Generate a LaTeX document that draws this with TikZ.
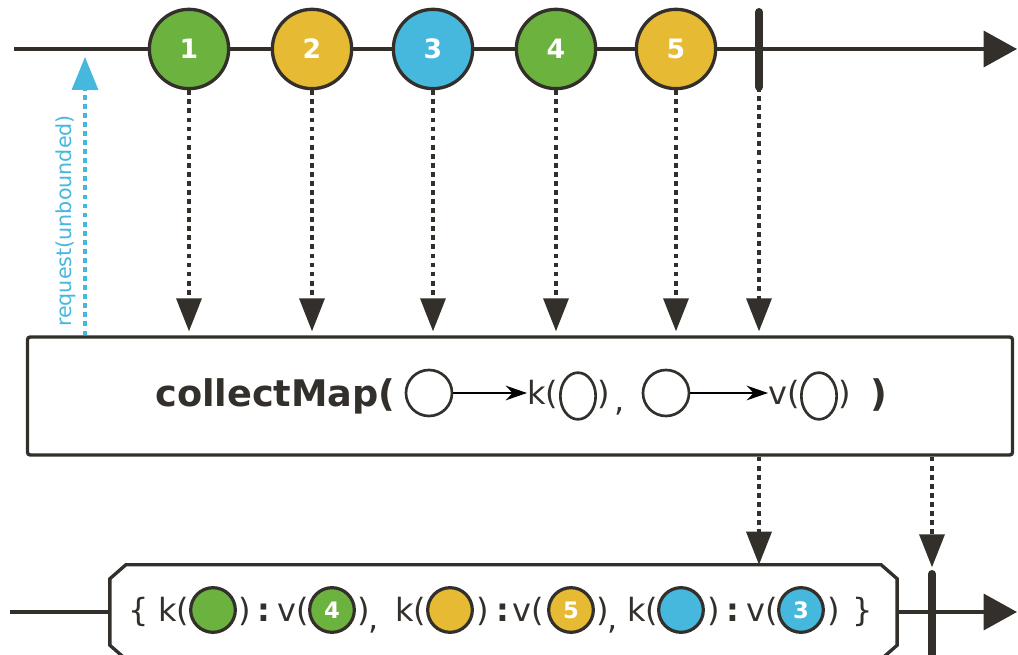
\documentclass[tikz,border=0pt]{standalone}
\usepackage{fontspec}
\setmainfont{DejaVu Sans}
\usetikzlibrary{arrows.meta,shapes.geometric}
\definecolor{ink}{RGB}{51,47,43}
\definecolor{mgreen}{RGB}{108,178,62}
\definecolor{myellow}{RGB}{230,186,50}
\definecolor{mblue}{RGB}{70,184,221}
\tikzset{
    timeline/.style={ink, line width=2.5pt, -{Triangle[length=25pt,width=27pt]}},
    marble/.style={circle, draw=ink, line width=2.5pt, minimum size=59.5pt, inner sep=0pt,
        text=white, font=\bfseries\fontsize{20}{20}\selectfont},
    small marble/.style={circle, draw=ink, line width=2.4pt, minimum size=33.5pt, inner sep=0pt,
        text=white, font=\bfseries\fontsize{17}{17}\selectfont},
    emit/.style={ink, line width=2.6pt, dash pattern=on 3.6pt off 3.2pt,
        -{Triangle[length=24.75pt,width=18.75pt]}},
    askline/.style={mblue, line width=2.6pt, dash pattern=on 3.6pt off 3.2pt,
        -{Triangle[length=24.75pt,width=19.5pt]}},
    stopbar/.style={ink, line width=6pt, line cap=round},
    opbox/.style={draw=ink, line width=2.5pt, rounded corners=2pt, minimum width=738.75pt,
        minimum height=88.5pt},
    hole/.style={circle, draw=ink, line width=2pt, minimum size=34.5pt, inner sep=0pt},
    slot/.style={ellipse, draw=ink, line width=2pt, minimum width=26.5pt, minimum height=35pt,
        inner sep=0pt},
    maparrow/.style={black, line width=1.5pt, -{Stealth[length=16pt,width=11pt]}},
    txt/.style={ink, anchor=base west, inner sep=0pt, font=\fontsize{24}{28}\selectfont},
    colon/.style={ink, anchor=base, inner sep=0pt, font=\bfseries\fontsize{24}{28}\selectfont},
}
\begin{document}
\begin{tikzpicture}[x=0.75pt, y=-0.75pt]
    \useasboundingbox (0,0) rectangle (1018,655);
    \draw[timeline] (14,49) -- (1017,49);
    \node[marble, fill=mgreen] (m1) at (189,49) {1};
    \node[marble, fill=myellow] (m2) at (312,49) {2};
    \node[marble, fill=mblue] (m3) at (433,49) {3};
    \node[marble, fill=mgreen] (m4) at (556,49) {4};
    \node[marble, fill=myellow] (m5) at (676,49) {5};
    \coordinate (donetop) at (759,12);
    \coordinate (donebot) at (759,87);
    \draw[stopbar] (donetop) -- (donebot);

    \node[opbox] (op) at (520,396) {};
    \draw[emit] (m1) -- ([yshift=3pt]m1 |- op.north);
    \draw[emit] (m2) -- ([yshift=3pt]m2 |- op.north);
    \draw[emit] (m3) -- ([yshift=3pt]m3 |- op.north);
    \draw[emit] (m4) -- ([yshift=3pt]m4 |- op.north);
    \draw[emit] (m5) -- ([yshift=3pt]m5 |- op.north);
    \draw[emit] (donebot) -- ([yshift=3pt]donebot |- op.north);

    \coordinate (req) at (85,57);
    \draw[askline] (req |- op.north) -- (req);
    \node[mblue, rotate=90, inner sep=0pt, font=\fontsize{15.5}{15.5}\selectfont] (reqlabel)
        at (66,221) {request(unbounded)};

    \node[txt, font=\bfseries\fontsize{27.5}{30}\selectfont] (cm) at (155,407) {collectMap(};
    \node[hole] (h1) at (429,393) {};
    \node[txt] (kp) at (527,405) {k(};
    \node[slot] (ks) at (578,396) {};
    \node[txt] (kc) at (597,405) {)};
    \node[txt] (sep) at (614,412) {,};
    \node[hole] (h2) at (666,393) {};
    \node[txt] (vp) at (768,405) {v(};
    \node[slot] (vs) at (819,396) {};
    \node[txt] (vc) at (838,405) {)};
    \node[txt, font=\bfseries\fontsize{27.5}{30}\selectfont] (close) at (870,407) {)};
    \draw[maparrow] (h1) -- (h1 -| kp.west);
    \draw[maparrow] (h2) -- (h2 -| vp.west);

    \node[inner sep=0pt, minimum width=590pt, minimum height=70.5pt] (res) at (503.5,612) {};
    \draw[ink, line width=2.5pt] ([xshift=12pt]res.north west) -- ([xshift=-12pt]res.north east)
        -- ([yshift=-10.5pt]res.north east) -- ([yshift=10.5pt]res.south east)
        -- ([xshift=-12pt]res.south east) -- ([xshift=12pt]res.south west)
        -- ([yshift=10.5pt]res.south west) -- ([yshift=-10.5pt]res.north west) -- cycle;
    \draw[ink, line width=2.5pt] (10,612) -- (res.west);
    \draw[timeline] (res.east) -- (1017,612);
    \coordinate (endtop) at (932,574);
    \coordinate (endbot) at (932,662);
    \draw[stopbar] (endtop) -- (endbot);
    \draw[emit] (op.south -| donebot) -- (res.north -| donebot);
    \draw[emit] (op.south -| endtop) -- ([yshift=5pt]endtop);

    \node[txt] (lbrace) at (128,622) {\{};
    \node[txt] (k1) at (158,622) {k(};
    \node[small marble, fill=mgreen] (key1) at (213,610) {};
    \node[txt] (k1c) at (238,622) {)};
    \node[colon] (c1) at (264,622) {:};
    \node[txt] (v1) at (277,622) {v(};
    \node[small marble, fill=mgreen] (val1) at (332,610) {4};
    \node[txt] (v1c) at (357,622) {)};
    \node[txt] (sep1) at (368,630) {,};
    \node[txt] (k2) at (395,622) {k(};
    \node[small marble, fill=myellow] (key2) at (450,610) {};
    \node[txt] (k2c) at (476,622) {)};
    \node[colon] (c2) at (503,622) {:};
    \node[txt] (v2) at (512,622) {v(};
    \node[small marble, fill=myellow] (val2) at (571,610) {5};
    \node[txt] (v2c) at (596,622) {)};
    \node[txt] (sep2) at (607,630) {,};
    \node[txt] (k3) at (627,622) {k(};
    \node[small marble, fill=mblue] (key3) at (681,610) {};
    \node[txt] (k3c) at (707,622) {)};
    \node[colon] (c3) at (733,622) {:};
    \node[txt] (v3) at (746,622) {v(};
    \node[small marble, fill=mblue] (val3) at (801,610) {3};
    \node[txt] (v3c) at (827,622) {)};
    \node[txt] (rbrace) at (852,622) {\}};
\end{tikzpicture}
\end{document}
